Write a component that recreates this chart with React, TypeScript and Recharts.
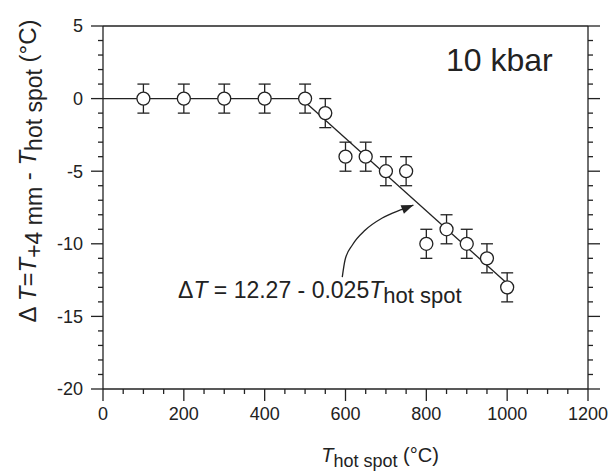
import React from 'react'
import { ComposedChart, Scatter, Line, XAxis, YAxis, ErrorBar } from 'recharts'

// measured points (T hot spot in °C, ΔT in °C, ± error)
const hotSpotT = [100, 200, 300, 400, 500, 550, 600, 650, 700, 750, 800, 850, 900, 950, 1000]
const deltaT = [0, 0, 0, 0, 0, -1, -4, -4, -5, -5, -10, -9, -10, -11, -13]
const deltaErr = [1, 1, 1, 1, 1, 1, 1, 1, 1, 1, 1, 1, 1, 1, 1]

// flat part and linear fit
const flatT = [0, 500]
const flatDT = [0, 0]
const fitT = [500, 1000]
const fitDT = [-0.23, -12.73]

// curved arrow pointing at the fit line
const arrowT = [592, 599, 617, 649, 691, 736, 768]
const arrowDT = [-12.29, -11.1, -10.08, -9.05, -8.22, -7.67, -7.33]

const xMajor = [0, 200, 400, 600, 800, 1000, 1200]
const xAll = [0, 50, 100, 150, 200, 250, 300, 350, 400, 450, 500, 550, 600, 650, 700, 750, 800, 850, 900, 950, 1000, 1050, 1100, 1150, 1200]
const yMajor = [5, 0, -5, -10, -15, -20]
const yAll = [5, 4, 3, 2, 1, 0, -1, -2, -3, -4, -5, -6, -7, -8, -9, -10, -11, -12, -13, -14, -15, -16, -17, -18, -19, -20]

const points = hotSpotT.map((t, i) => ({ x: t, y: deltaT[i], err: deltaErr[i] }))
const flatLine = flatT.map((t, i) => ({ x: t, y: flatDT[i] }))
const fitLine = fitT.map((t, i) => ({ x: t, y: fitDT[i] }))
const arrowLine = arrowT.map((t, i) => ({ x: t, y: arrowDT[i] }))
const arrowTip = [arrowLine[arrowLine.length - 1]]

const INK = '#222'
const FONT = '"Liberation Sans", Arial, Helvetica, sans-serif'

const BoxTick = (props: any) => {
  const { x, y, payload, side, majors, label } = props
  const v = payload.value
  const major = majors.includes(v)
  const len = major ? 12 : 5
  let x2 = x
  let y2 = y
  if (side === 'bottom') y2 = y + len
  if (side === 'top') y2 = y - len
  if (side === 'left') x2 = x - len
  if (side === 'right') x2 = x + len
  return (
    <g>
      <line x1={x} y1={y} x2={x2} y2={y2} stroke={INK} strokeWidth={1.3} />
      {label && major && side === 'bottom' && (
        <text x={x} y={y + 31} textAnchor="middle" fontSize={18} fill={INK} fontFamily={FONT}>
          {v}
        </text>
      )}
      {label && major && side === 'left' && (
        <text x={x - 20} y={y} dy="0.36em" textAnchor="end" fontSize={18} fill={INK} fontFamily={FONT}>
          {v}
        </text>
      )}
    </g>
  )
}

const OpenCircle = (p: any) => (
  <circle cx={p.cx} cy={p.cy} r={6.5} fill="#fff" stroke={INK} strokeWidth={1.3} />
)

const ArrowHead = (p: any) => (
  <polygon
    points="0,0 -12,-4.5 -12,4.5"
    transform={`translate(${p.cx},${p.cy}) rotate(-22)`}
    fill={INK}
  />
)

export default function App() {
  return (
    <div style={{ position: 'absolute', left: 0, top: 0, width: 616, height: 472, background: '#fff' }}>
      <ComposedChart width={616} height={472} margin={{ top: 16, right: 18, bottom: 43, left: 43 }}>
        <XAxis
          xAxisId="b"
          type="number"
          dataKey="x"
          domain={[0, 1200]}
          allowDataOverflow
          ticks={xAll}
          interval={0}
          height={40}
          tickSize={0}
          tickMargin={0}
          axisLine={{ stroke: INK, strokeWidth: 1.3 }}
          tick={(p: any) => <BoxTick {...p} side="bottom" majors={xMajor} label />}
        />
        <XAxis
          xAxisId="t"
          orientation="top"
          type="number"
          domain={[0, 1200]}
          allowDataOverflow
          ticks={xAll}
          interval={0}
          height={10}
          tickSize={0}
          tickMargin={0}
          axisLine={{ stroke: INK, strokeWidth: 1.3 }}
          tick={(p: any) => <BoxTick {...p} side="top" majors={xMajor} />}
        />
        <YAxis
          yAxisId="l"
          type="number"
          dataKey="y"
          domain={[-20, 5]}
          allowDataOverflow
          ticks={yAll}
          interval={0}
          width={60}
          tickSize={0}
          tickMargin={0}
          axisLine={{ stroke: INK, strokeWidth: 1.3 }}
          tick={(p: any) => <BoxTick {...p} side="left" majors={yMajor} label />}
        />
        <YAxis
          yAxisId="r"
          orientation="right"
          type="number"
          domain={[-20, 5]}
          allowDataOverflow
          ticks={yAll}
          interval={0}
          width={10}
          tickSize={0}
          tickMargin={0}
          axisLine={{ stroke: INK, strokeWidth: 1.3 }}
          tick={(p: any) => <BoxTick {...p} side="right" majors={yMajor} />}
        />
        <Line xAxisId="b" yAxisId="l" data={flatLine} dataKey="y" type="linear" stroke={INK} strokeWidth={1.3} dot={false} isAnimationActive={false} />
        <Line xAxisId="b" yAxisId="l" data={fitLine} dataKey="y" type="linear" stroke={INK} strokeWidth={1.3} dot={false} isAnimationActive={false} />
        <Line xAxisId="b" yAxisId="l" data={arrowLine} dataKey="y" type="monotoneX" stroke={INK} strokeWidth={1.3} dot={false} isAnimationActive={false} />
        <Scatter xAxisId="b" yAxisId="l" data={arrowTip} dataKey="y" shape={ArrowHead} isAnimationActive={false} />
        <Scatter xAxisId="b" yAxisId="l" data={points} dataKey="y" shape={OpenCircle} isAnimationActive={false}>
          <ErrorBar dataKey="err" direction="y" width={6} stroke={INK} strokeWidth={1.3} />
        </Scatter>
      </ComposedChart>
      <svg width={616} height={472} style={{ position: 'absolute', left: 0, top: 0, pointerEvents: 'none' }} fontFamily={FONT} fill={INK}>
        <text x={446} y={71} fontSize={32}>10 kbar</text>
        <text x={178} y={298} fontSize={23}>
          Δ<tspan fontStyle="italic">T</tspan>{' = 12.27 - 0.025'}<tspan fontStyle="italic">T</tspan>
          <tspan fontSize={22} dy={5}>hot spot</tspan>
        </text>
        <text transform="translate(36,171) rotate(-90)" textAnchor="middle" fontSize={24}>
          {'Δ '}<tspan fontStyle="italic">T</tspan>=<tspan fontStyle="italic">T</tspan>
          <tspan fontSize={23} dy={6}>+4 mm</tspan>
          <tspan dy={-6}>{' - '}</tspan><tspan fontStyle="italic">T</tspan>
          <tspan fontSize={23} dy={6}>hot spot</tspan>
          <tspan dy={-6}>{' (°C)'}</tspan>
        </text>
        <text x={380} y={462} textAnchor="middle" fontSize={20}>
          <tspan fontStyle="italic">T</tspan>
          <tspan fontSize={18} dy={5}>hot spot</tspan>
          <tspan dy={-5}>{' (°C)'}</tspan>
        </text>
      </svg>
    </div>
  )
}
